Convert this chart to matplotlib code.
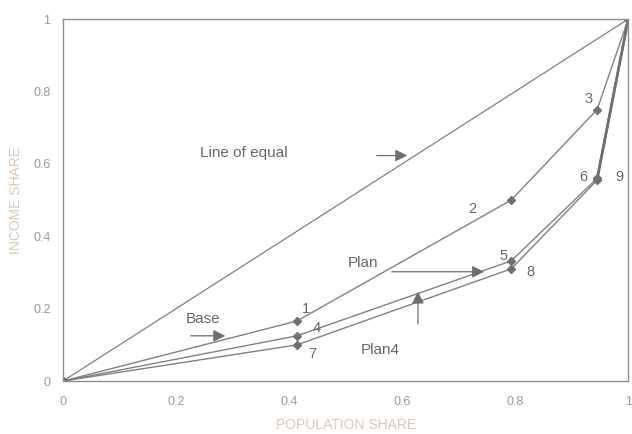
import matplotlib.pyplot as plt

plt.rcParams['font.family'] = ['Liberation Sans', 'DejaVu Sans']

# population share and income share for each plan
pop = [0.0, 0.414, 0.793, 0.945, 1.0]
base = [0.0, 0.166, 0.50, 0.75, 1.0]
plan = [0.0, 0.125, 0.332, 0.56, 1.0]
plan4 = [0.0, 0.10, 0.31, 0.555, 1.0]

# numbered points: label, x, y
point_labels = [("1", 0.430, 0.199), ("2", 0.724, 0.476), ("3", 0.929, 0.778),
                ("4", 0.448, 0.147), ("5", 0.779, 0.346), ("6", 0.920, 0.565),
                ("7", 0.441, 0.075), ("8", 0.827, 0.302), ("9", 0.984, 0.565)]

ticks = [0, 0.2, 0.4, 0.6, 0.8, 1]
tick_labels = ["0", "0.2", "0.4", "0.6", "0.8", "1"]

line_col = "#808080"
text_col = "#666666"
label_col = "#d9c8b8"

fig = plt.figure(figsize=(6.32, 4.34), dpi=100)
ax = fig.add_axes([0.0997, 0.122, 0.8943, 0.834])

ax.plot([0, 1], [0, 1], color=line_col, lw=0.9)
for ys in (base, plan, plan4):
    ax.plot(pop, ys, color=line_col, lw=1.0, marker="D", markersize=4,
            markerfacecolor="#707070", markeredgecolor="#707070")
# heavier top segments
ax.plot(pop[3:], plan[3:], color="#707070", lw=1.8)
ax.plot(pop[3:], plan4[3:], color="#707070", lw=1.8)

for lab, x, y in point_labels:
    ax.text(x, y, lab, fontsize=10.5, color=text_col, ha="center", va="center")

arrow = dict(arrowstyle="-|>", color="#6e6e6e", lw=0.9, mutation_scale=18)
ax.annotate("", xy=(0.614, 0.623), xytext=(0.550, 0.623), arrowprops=arrow)
ax.annotate("", xy=(0.750, 0.302), xytext=(0.577, 0.302), arrowprops=arrow)
ax.annotate("", xy=(0.292, 0.125), xytext=(0.221, 0.125), arrowprops=arrow)
ax.annotate("", xy=(0.628, 0.255), xytext=(0.628, 0.150), arrowprops=arrow)

ax.text(0.242, 0.629, "Line of equal", fontsize=11, color=text_col, va="center")
ax.text(0.504, 0.327, "Plan", fontsize=11, color=text_col, va="center")
ax.text(0.218, 0.172, "Base", fontsize=11, color=text_col, va="center")
ax.text(0.526, 0.086, "Plan4", fontsize=11, color=text_col, va="center")

ax.set_xlim(0, 1)
ax.set_ylim(0, 1)
ax.set_xticks(ticks)
ax.set_xticklabels(tick_labels)
ax.set_yticks(ticks)
ax.set_yticklabels(tick_labels)
ax.tick_params(length=0, labelsize=9, colors="#999999")
ax.tick_params(axis="x", pad=11)
ax.tick_params(axis="y", pad=9)
for s in ax.spines.values():
    s.set_color("#909090")
    s.set_linewidth(1.0)

ax.set_xlabel("POPULATION SHARE", fontsize=10, color=label_col, labelpad=7)
ax.set_ylabel("INCOME SHARE", fontsize=10, color=label_col, labelpad=7)

fig.savefig("out.png", dpi=100)
